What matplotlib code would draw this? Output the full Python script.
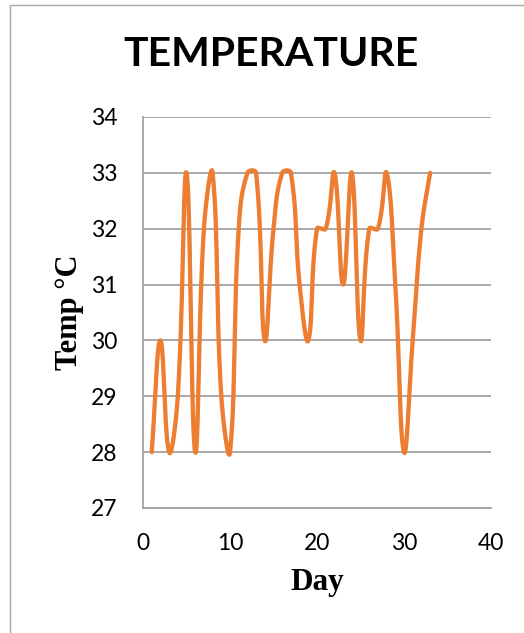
import numpy as np
import matplotlib
matplotlib.use("Agg")
import matplotlib.pyplot as plt
from matplotlib.patches import Rectangle

# Daily temperature readings
days = list(range(1, 34))
temps = [28, 30, 28, 29, 33, 28, 32, 33, 29, 28,
         32, 33, 33, 30, 32, 33, 33, 31, 30, 32,
         32, 33, 31, 33, 30, 32, 32, 33, 31, 28,
         30, 32, 33]

x_ticks = [0, 10, 20, 30, 40]
y_ticks = [27, 28, 29, 30, 31, 32, 33, 34]

LINE_COLOR = "#ED7D31"
GRID_COLOR = "#A3A3A3"


def smooth_curve(xs, ys, sx, sy, tension=0.42, samples=60):
    """Smoothed line through every point: cubic Bezier segments whose control
    arms are weighted by neighbouring segment lengths in display units."""
    P = np.column_stack([np.asarray(xs, float) * sx, np.asarray(ys, float) * sy])
    n = len(P)
    t = np.linspace(0, 1, samples)[:, None]
    pts = []
    for i in range(n - 1):
        p0 = P[max(i - 1, 0)]
        p1 = P[i]
        p2 = P[i + 1]
        p3 = P[min(i + 2, n - 1)]
        d01 = np.hypot(*(p1 - p0))
        d12 = np.hypot(*(p2 - p1))
        d23 = np.hypot(*(p3 - p2))
        c1 = p1 + tension * (p2 - p0) * (d12 / (d01 + d12) if d01 + d12 else 0)
        c2 = p2 - tension * (p3 - p1) * (d12 / (d12 + d23) if d12 + d23 else 0)
        b = (1 - t) ** 3 * p1 + 3 * (1 - t) ** 2 * t * c1 \
            + 3 * (1 - t) * t ** 2 * c2 + t ** 3 * p2
        pts.append(b if i == 0 else b[1:])
    pts = np.vstack(pts)
    return pts[:, 0] / sx, pts[:, 1] / sy


W, H = 524, 633
AX_L, AX_R, AX_T, AX_B = 143, 491, 117, 508
fig = plt.figure(figsize=(W / 100, H / 100), dpi=100)
fig.patch.set_facecolor("white")

# chart frame (left and top edges visible)
fig.patches.append(Rectangle((10 / W, -0.1), 1.2, 1 - 5 / H + 0.1,
                             transform=fig.transFigure, fill=False,
                             edgecolor="#A6A6A6", linewidth=1.0))

ax = fig.add_axes([AX_L / W, 1 - AX_B / H, (AX_R - AX_L) / W, (AX_B - AX_T) / H])
px_per_x = (AX_R - AX_L) / 40.0
px_per_y = (AX_B - AX_T) / 7.0
cx, cy = smooth_curve(days, temps, px_per_x, px_per_y)
ax.plot(cx, cy, color=LINE_COLOR, linewidth=3.1, solid_capstyle="round",
        solid_joinstyle="round", zorder=3)

ax.set_xlim(0, 40)
ax.set_ylim(27, 34)
ax.set_xticks(x_ticks)
ax.set_yticks(y_ticks)
ax.yaxis.grid(True, color=GRID_COLOR, linewidth=1.3)
ax.set_axisbelow(True)
for side in ("top", "right"):
    ax.spines[side].set_visible(False)
for side in ("left", "bottom"):
    ax.spines[side].set_color(GRID_COLOR)
    ax.spines[side].set_linewidth(1.3)
ax.tick_params(length=0, labelsize=16.5)
ax.tick_params(axis="y", pad=18.5)
ax.tick_params(axis="x", pad=18)
for lab in ax.get_xticklabels() + ax.get_yticklabels():
    lab.set_fontfamily("Lato")

ax.set_xlabel("Day", fontsize=22.5, fontweight="bold",
              fontfamily="Liberation Serif", labelpad=10)
ax.set_ylabel("Temp \u00b0C", fontsize=22, fontweight="bold",
              fontfamily="Liberation Serif", labelpad=5)

fig.text(271 / W, 1 - 54 / H, "TEMPERATURE", ha="center", va="center",
         fontsize=29.5, fontweight="bold", fontfamily="Lato")

fig.savefig("out.png", dpi=100)
